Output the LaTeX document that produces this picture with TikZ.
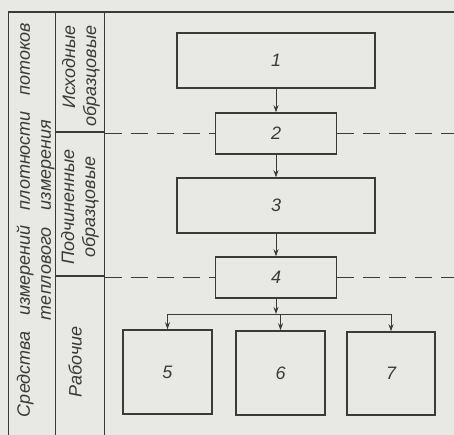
\documentclass[tikz,border=0pt]{standalone}
\usepackage{fontspec}
\setmainfont{Liberation Sans}
\usetikzlibrary{arrows.meta}
\definecolor{paper}{RGB}{232,232,228}
\definecolor{ink}{RGB}{58,58,58}
\tikzstyle{block} = [rectangle, draw=ink, line width=1.5pt, text=ink, inner sep=0pt, font=\itshape\fontsize{18}{20}\selectfont]
\tikzstyle{arrow} = [draw=ink, line width=1pt, -{Stealth[length=7pt,width=5pt]}]
\tikzstyle{wire} = [draw=ink, line width=1pt]
\tikzstyle{dashline} = [draw=ink, line width=1.6pt, dash pattern=on 17pt off 9pt]
\tikzstyle{frame} = [draw=ink, line width=1.7pt]
\tikzstyle{vtext} = [rotate=90, text=ink, inner sep=0pt, font=\itshape\fontsize{18}{21}\selectfont]

\begin{document}
\begin{tikzpicture}[x=1pt, y=-1pt]
\fill[paper] (0,0) rectangle (454,435);
\useasboundingbox (0,0) rectangle (454,435);

% table lines
\draw[frame] (8.5,435) -- (8.5,12) -- (454,12);
\draw[frame] (55.5,12) -- (55.5,435);
\draw[frame] (104.5,12) -- (104.5,435);
\draw[frame] (55.5,132) -- (104.5,132);
\draw[frame] (55.5,276) -- (104.5,276);

% headings
\node (side) [vtext, align=center] at (35.5,220) {\makebox[394pt][s]{Средства измерений плотности потоков}\\ \makebox[200pt][s]{теплового измерения}};
\node (src) [vtext, align=right] at (81,76) {Исходные\\образцовые};
\node (sub) [vtext, align=center] at (80,207) {Подчиненные\\образцовые};
\node (work) [vtext] at (75,362) {Рабочие};

% blocks
\node (b1) [block, minimum width=198pt, minimum height=55pt] at (276,60.5) {1};
\node (b2) [block, minimum width=121pt, minimum height=41pt] at (276,133.5) {2};
\node (b3) [block, minimum width=198pt, minimum height=55pt] at (276,205.5) {3};
\node (b4) [block, minimum width=121pt, minimum height=41pt] at (276,277.5) {4};
\node (b5) [block, minimum width=89pt, minimum height=84pt] at (167.5,372) {5};
\node (b6) [block, minimum width=89pt, minimum height=84pt] at (280.5,373) {6};
\node (b7) [block, minimum width=88pt, minimum height=83pt] at (391,373.5) {7};

% level borders
\coordinate (l2) at (104.5,133.5);
\coordinate (r2) at (454,133.5);
\coordinate (l4) at (104.5,277.5);
\coordinate (r4) at (454,277.5);
\draw[dashline] (l2) -- (b2);
\draw[dashline] (b2) -- (r2);
\draw[dashline] (l4) -- (b4);
\draw[dashline] (b4) -- (r4);

% links
\draw[arrow] (b1) -- (b2);
\draw[arrow] (b2) -- (b3);
\draw[arrow] (b3) -- (b4);
\coordinate (fork) at (276,314);
\draw[arrow] (b4) -- (fork);
\draw[wire] (b5.north |- fork) -- (b7.north |- fork);
\draw[arrow] (b5.north |- fork) -- (b5);
\draw[arrow] (b6.north |- fork) -- (b6);
\draw[arrow] (b7.north |- fork) -- (b7);

\end{tikzpicture}
\end{document}
